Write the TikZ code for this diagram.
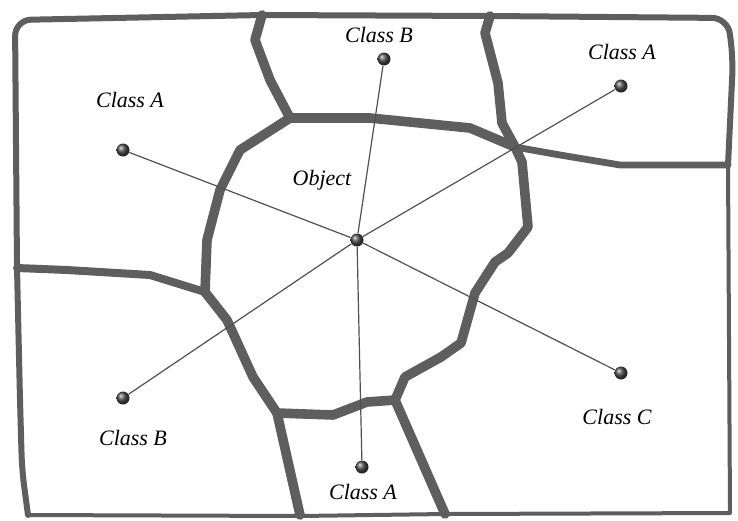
\documentclass[tikz,border=0pt]{standalone}
\usepackage{fontspec}
\setmainfont{Liberation Serif}
\usepackage{tikz}
\definecolor{wallgray}{HTML}{5E5E5E}
\definecolor{spokegray}{HTML}{505050}

\begin{document}
\begin{tikzpicture}[
  x=0.5pt, y=-0.5pt,
  rim/.style={draw=wallgray, line width=3pt, line join=round, line cap=round},
  wall/.style={rim, line width=4.8pt},
  dot/.style={circle, minimum size=6.5pt, inner sep=0pt, ball color=gray!60!black},
  lbl/.style={font=\fontsize{11}{13}\selectfont\itshape},
  spoke/.style={draw=spokegray, line width=0.6pt}
]
\useasboundingbox (0,0) rectangle (738,520);

% ---- Outer frame ----
\draw[rim, rounded corners=8pt] (28,515) -- (22,470) -- (20,400) -- (17,268) -- (15,20)
  -- (262,15) -- (490,16) -- (728,18) -- (733,60) -- (728,165);
\draw[rim, line width=2pt] (728,165) -- (730,513) -- (445,514) -- (300,516) -- (28,515);

% ---- Cell walls ----
\draw[wall] (262,15) -- (255,40) -- (270,80) -- (290,118);
\draw[wall] (490,16) -- (485,33) -- (498,83) -- (502,123) -- (515,147);
\draw[rim, line width=3.4pt] (515,147) -- (560,155) -- (620,165) -- (728,165);
\draw[rim, line width=4pt] (17,268) -- (67,270) -- (150,275) -- (205,292);

% ---- Object cell ----
\draw[wall] (290,118) -- (370,118) -- (470,128) -- (515,147);
\draw[wall] (515,147) -- (522,162) -- (528,227) -- (508,253) -- (495,262) -- (475,293)
  -- (461,343) -- (441,357) -- (405,377) -- (395,400);
\draw[wall] (290,118) -- (240,150) -- (220,190) -- (207,240) -- (205,292);
\draw[wall] (205,292) -- (227,320) -- (253,377) -- (277,413);

% ---- Bottom cell ----
\draw[wall] (277,413) -- (333,415) -- (367,402) -- (395,400);
\draw[wall] (277,413) -- (300,515);
\draw[wall] (395,400) -- (445,514);

% ---- Sites ----
\node[dot] (obj) at (357,240) {};
\node[dot] (tb) at (384,59) {};
\node[dot] (tra) at (621,86) {};
\node[dot] (la) at (123,150) {};
\node[dot] (lb) at (123,398) {};
\node[dot] (ba) at (362,467) {};
\node[dot] (rc) at (621,373) {};

% ---- Spokes ----
\foreach \s in {tb,tra,la,lb,ba,rc}
  \draw[spoke] (obj) -- (\s);

% ---- Labels ----
\node[lbl] (objlbl) at (322,180) {Object};
\node[lbl] (tblbl) at (379,35) {Class B};
\node[lbl] (tralbl) at (622,52) {Class A};
\node[lbl] (lalbl) at (130,100) {Class A};
\node[lbl] (lblbl) at (133,438) {Class B};
\node[lbl] (balbl) at (363,492) {Class A};
\node[lbl] (rclbl) at (617,417) {Class C};

\end{tikzpicture}
\end{document}
